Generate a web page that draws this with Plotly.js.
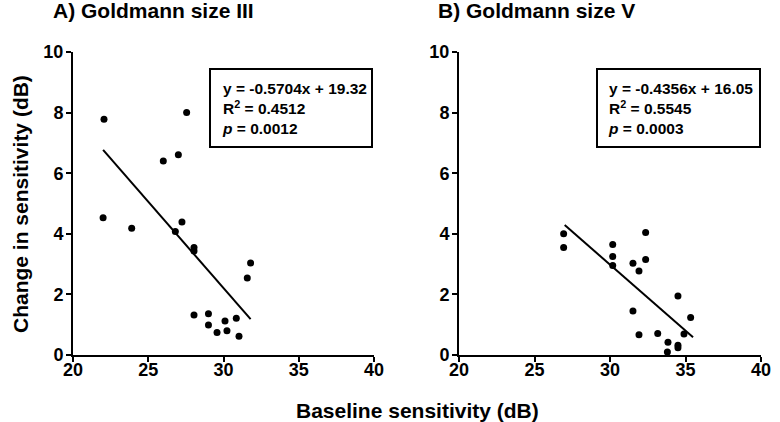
<!DOCTYPE html>
<html>
<head>
<meta charset="utf-8">
<script src="https://cdn.plot.ly/plotly-3.0.1.min.js"></script>
<style>html,body{margin:0;padding:0;background:#fff;}#chart{width:780px;height:422px;}</style>
</head>
<body>
<div id="chart"></div>
<script>
// Panel A: Goldmann size III
const aX = [22.0, 22.06, 23.9, 26.0, 27.0, 27.55, 27.24, 26.8, 28.04, 28.04, 31.8, 31.58, 28.04, 29.0, 29.0, 29.57, 30.1, 30.23, 30.85, 31.03];
const aY = [4.53, 7.78, 4.18, 6.40, 6.61, 8.0, 4.39, 4.08, 3.55, 3.43, 3.04, 2.54, 1.32, 1.36, 0.99, 0.74, 1.12, 0.80, 1.21, 0.62];
const aSlope = -0.5704, aIntercept = 19.32;
const aFitX = [22.0, 31.8];

// Panel B: Goldmann size V
const bX = [26.93, 26.93, 30.18, 30.18, 30.18, 32.36, 32.36, 31.52, 31.92, 34.5, 31.52, 35.34, 31.92, 33.16, 34.9, 33.84, 34.5, 34.5, 33.8];
const bY = [4.0, 3.55, 3.65, 3.25, 2.95, 4.04, 3.15, 3.03, 2.77, 1.95, 1.45, 1.24, 0.67, 0.71, 0.69, 0.42, 0.32, 0.24, 0.10];
const bSlope = -0.4356, bIntercept = 16.05;
const bFitX = [27.0, 35.5];

const panelTitles = ["A) Goldmann size III", "B) Goldmann size V"];
const statsA = ["y = -0.5704x + 19.32", "R<sup>2</sup> = 0.4512", "<i>p</i> = 0.0012"];
const statsB = ["y = -0.4356x + 16.05", "R<sup>2</sup> = 0.5545", "<i>p</i> = 0.0003"];
const xTitle = "Baseline sensitivity (dB)";
const yTitle = "Change in sensitivity (dB)";
const xTicks = [20, 25, 30, 35, 40];
const yTicks = [0, 2, 4, 6, 8, 10];

const W = 780, H = 422;
const px = v => v / W, py = v => (H - v) / H;
const FONT = 'Liberation Sans, Arial, Helvetica, sans-serif';

const marker = {color: '#000', size: 7, symbol: 'circle'};
const traces = [
  {x: aX, y: aY, type: 'scatter', mode: 'markers', marker: marker, xaxis: 'x', yaxis: 'y', cliponaxis: false, hoverinfo: 'x+y'},
  {x: aFitX, y: aFitX.map(v => aSlope * v + aIntercept), type: 'scatter', mode: 'lines', line: {color: '#000', width: 2}, xaxis: 'x', yaxis: 'y'},
  {x: bX, y: bY, type: 'scatter', mode: 'markers', marker: marker, xaxis: 'x2', yaxis: 'y2', cliponaxis: false, hoverinfo: 'x+y'},
  {x: bFitX, y: bFitX.map(v => bSlope * v + bIntercept), type: 'scatter', mode: 'lines', line: {color: '#000', width: 2}, xaxis: 'x2', yaxis: 'y2'}
];

const tickFont = {family: FONT, size: 18, color: '#000', weight: 'bold'};
function xAxis(domain, anchor) {
  return {domain: domain, anchor: anchor, range: [20, 40], tickvals: xTicks, ticktext: xTicks.map(String),
    showgrid: false, zeroline: false, showline: true, linecolor: '#000', linewidth: 2,
    ticks: 'outside', ticklen: 5, tickwidth: 2, tickcolor: '#000', tickfont: tickFont, ticklabelstandoff: -8, fixedrange: true};
}
function yAxis(domain, anchor) {
  return {domain: domain, anchor: anchor, range: [0, 10], tickvals: yTicks, ticktext: yTicks.map(String),
    showgrid: false, zeroline: false, showline: true, linecolor: '#000', linewidth: 2,
    ticks: 'outside', ticklen: 5, tickwidth: 2, tickcolor: '#000', tickfont: tickFont, ticklabelstandoff: -1, fixedrange: true};
}
const yDom = [py(355), py(52)];

const statFont = {family: FONT, size: 15.5, color: '#000', weight: 'bold'};
const bigFont = {family: FONT, size: 21, color: '#000', weight: 'bold'};
const layout = {
  width: W, height: H, autosize: false,
  margin: {l: 0, r: 0, t: 0, b: 0},
  paper_bgcolor: '#fff', plot_bgcolor: '#fff',
  showlegend: false,
  xaxis: xAxis([px(73), px(374)], 'y'),
  yaxis: yAxis(yDom, 'x'),
  xaxis2: xAxis([px(459), px(761)], 'y2'),
  yaxis2: yAxis(yDom, 'x2'),
  shapes: [
    {type: 'rect', xref: 'paper', yref: 'paper', x0: px(210), x1: px(372), y0: py(147), y1: py(69), line: {color: '#000', width: 2}, fillcolor: 'rgba(0,0,0,0)'},
    {type: 'rect', xref: 'paper', yref: 'paper', x0: px(597), x1: px(760), y0: py(147), y1: py(69), line: {color: '#000', width: 2}, fillcolor: 'rgba(0,0,0,0)'}
  ],
  annotations: [
    {text: panelTitles[0], xref: 'paper', yref: 'paper', x: px(51), y: py(10), xanchor: 'left', yanchor: 'middle', showarrow: false, font: bigFont},
    {text: panelTitles[1], xref: 'paper', yref: 'paper', x: px(436), y: py(10), xanchor: 'left', yanchor: 'middle', showarrow: false, font: bigFont},
    {text: statsA.join('<br>'), xref: 'paper', yref: 'paper', x: px(220), y: py(78), xanchor: 'left', yanchor: 'top', align: 'left', showarrow: false, font: statFont},
    {text: statsB.join('<br>'), xref: 'paper', yref: 'paper', x: px(606), y: py(78), xanchor: 'left', yanchor: 'top', align: 'left', showarrow: false, font: statFont},
    {text: xTitle, xref: 'paper', yref: 'paper', x: px(417), y: py(410), xanchor: 'center', yanchor: 'middle', showarrow: false, font: bigFont},
    {text: yTitle, xref: 'paper', yref: 'paper', x: px(20), y: py(204), xanchor: 'center', yanchor: 'middle', textangle: -90, showarrow: false, font: bigFont}
  ]
};

Plotly.newPlot('chart', traces, layout, {displayModeBar: false, staticPlot: true});
</script>
</body>
</html>
